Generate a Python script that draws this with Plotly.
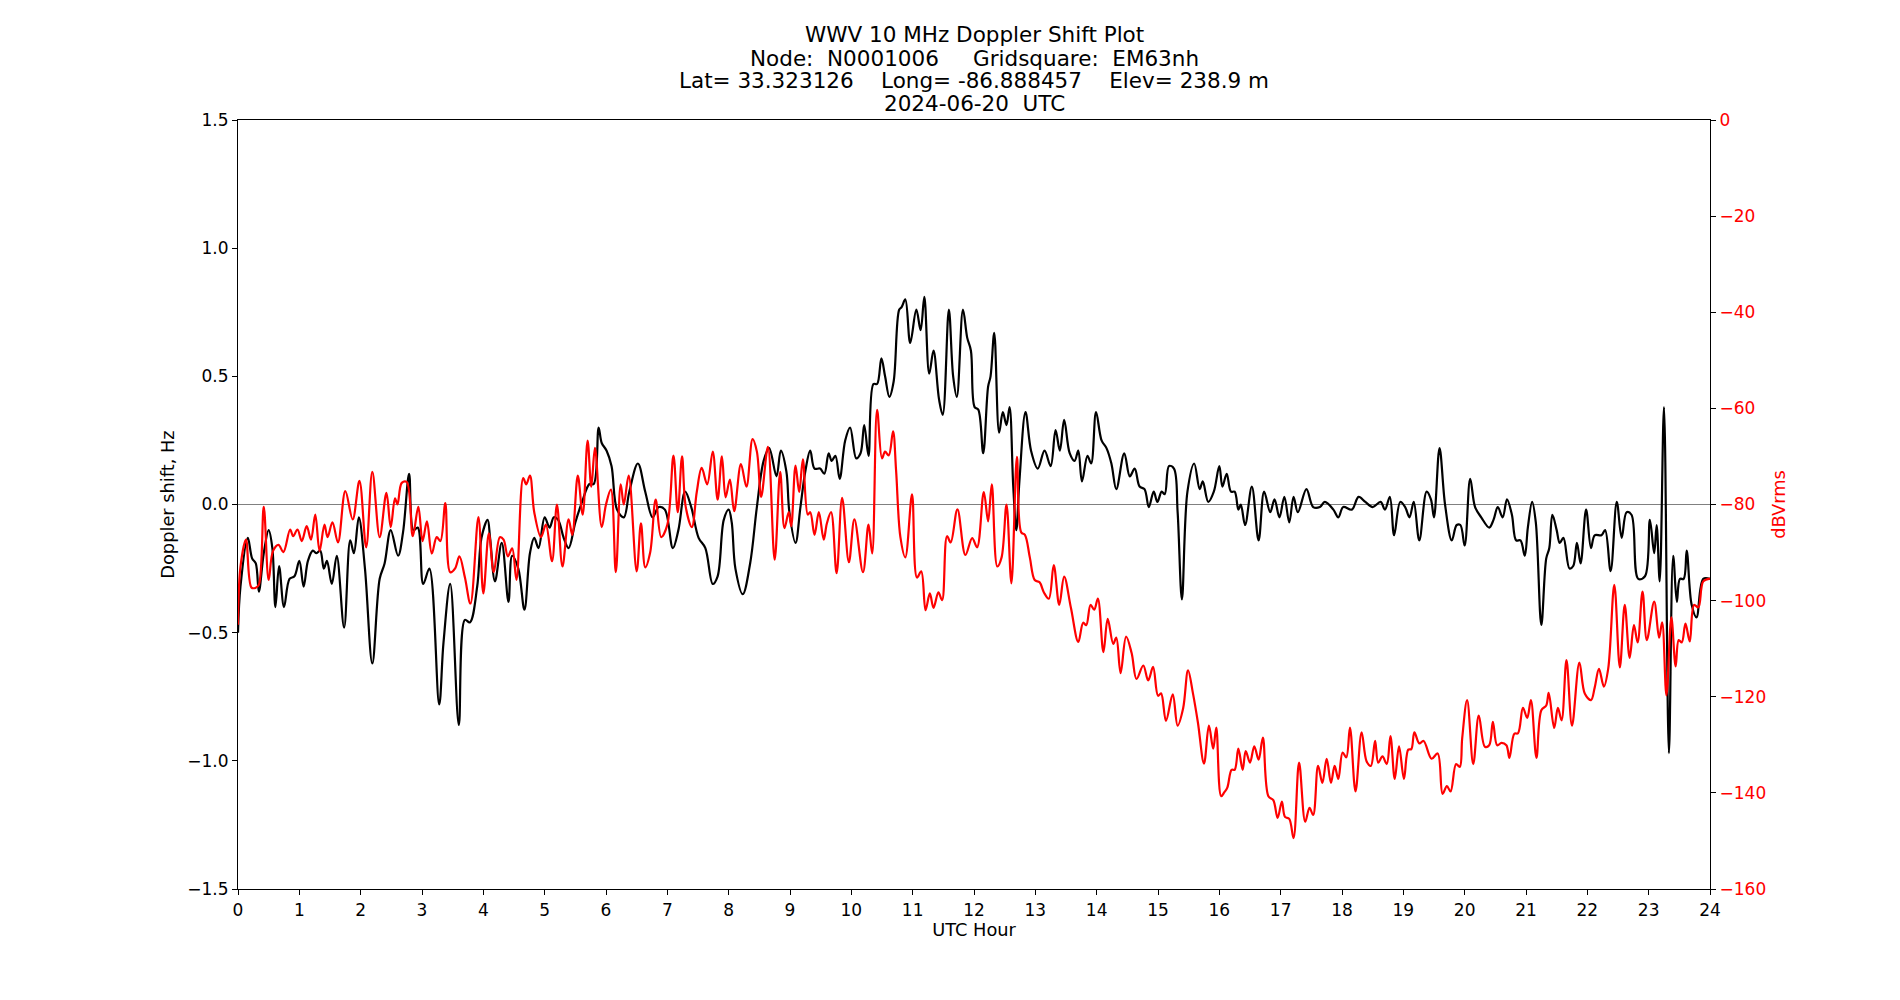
import plotly.graph_objects as go

# ---------------- data ----------------
doppler_hours = [
    0.00, 0.04, 0.16, 0.23, 0.29, 0.34, 0.42, 0.50, 0.56, 0.61, 0.67, 0.75, 0.84, 0.92,
    1.00, 1.07, 1.14, 1.22, 1.28, 1.34, 1.40, 1.45, 1.53, 1.61, 1.73, 1.83, 1.89, 1.97,
    2.07, 2.19, 2.31, 2.39, 2.49, 2.61, 2.69, 2.79, 2.86, 2.93, 3.02, 3.12, 3.28, 3.35,
    3.46, 3.60, 3.70, 3.78, 3.90, 3.97, 4.07, 4.11, 4.19, 4.30, 4.41, 4.47, 4.57, 4.67,
    4.76, 4.83, 4.90, 5.00, 5.08, 5.15, 5.22, 5.31, 5.39, 5.50, 5.61, 5.73, 5.80, 5.88,
    5.93, 6.01, 6.09, 6.18, 6.29, 6.38, 6.52, 6.64, 6.76, 6.86, 6.96, 7.09, 7.18, 7.29,
    7.39, 7.51, 7.62, 7.74, 7.82, 7.92, 8.00, 8.05, 8.11, 8.23, 8.35, 8.46, 8.57, 8.66,
    8.78, 8.85, 8.94, 8.99, 9.09, 9.17, 9.25, 9.33, 9.40, 9.49, 9.56, 9.63, 9.68, 9.74,
    9.81, 9.90, 9.98, 10.08, 10.15, 10.21, 10.28, 10.36, 10.42, 10.49, 10.55, 10.62,
    10.69, 10.78, 10.82, 10.88, 10.96, 11.06, 11.13, 11.19, 11.27, 11.34, 11.43, 11.49,
    11.59, 11.66, 11.72, 11.82, 11.89, 11.95, 12.01, 12.07, 12.15, 12.23, 12.27, 12.33,
    12.41, 12.47, 12.53, 12.58, 12.64, 12.69, 12.74, 12.84, 12.93, 13.04, 13.15, 13.25,
    13.33, 13.40, 13.47, 13.56, 13.64, 13.70, 13.76, 13.85, 13.91, 13.99, 14.08, 14.16,
    14.24, 14.32, 14.45, 14.54, 14.62, 14.70, 14.78, 14.85, 14.93, 14.99, 15.06, 15.11,
    15.18, 15.26, 15.32, 15.39, 15.48, 15.59, 15.68, 15.73, 15.82, 15.91, 16.00, 16.05,
    16.12, 16.19, 16.25, 16.31, 16.35, 16.42, 16.53, 16.64, 16.73, 16.83, 16.90, 16.98,
    17.06, 17.14, 17.21, 17.28, 17.42, 17.53, 17.64, 17.72, 17.86, 17.94, 18.02, 18.16,
    18.27, 18.38, 18.50, 18.63, 18.70, 18.78, 18.85, 18.95, 19.03, 19.10, 19.17, 19.26,
    19.38, 19.45, 19.50, 19.59, 19.68, 19.79, 19.87, 19.93, 20.00, 20.09, 20.17, 20.27,
    20.40, 20.47, 20.54, 20.62, 20.69, 20.77, 20.84, 20.91, 20.98, 21.03, 21.10, 21.16,
    21.25, 21.33, 21.38, 21.43, 21.50, 21.55, 21.61, 21.71, 21.77, 21.83, 21.89, 21.98,
    22.06, 22.12, 22.23, 22.29, 22.38, 22.48, 22.56, 22.64, 22.72, 22.83, 22.94, 23.02,
    23.09, 23.13, 23.18, 23.25, 23.33, 23.40, 23.46, 23.51, 23.57, 23.62, 23.70, 23.78,
    23.89, 24.00,
]
doppler_hz = [
    -0.50, -0.32, -0.13, -0.21, -0.23, -0.34, -0.19, -0.10, -0.17, -0.40, -0.24, -0.40, -0.29, -0.28,
    -0.22, -0.32, -0.22, -0.18, -0.19, -0.18, -0.25, -0.22, -0.31, -0.20, -0.48, -0.14, -0.19, -0.05,
    -0.25, -0.62, -0.29, -0.23, -0.10, -0.20, -0.11, 0.12, -0.10, -0.09, -0.31, -0.25, -0.78, -0.54,
    -0.31, -0.86, -0.45, -0.46, -0.32, -0.13, -0.06, -0.13, -0.30, -0.15, -0.38, -0.20, -0.25, -0.41,
    -0.19, -0.13, -0.17, -0.05, -0.09, -0.05, -0.06, -0.13, -0.17, -0.07, 0.01, 0.08, 0.08, 0.30,
    0.24, 0.21, 0.15, -0.02, -0.05, 0.05, 0.16, 0.05, -0.05, -0.01, -0.02, -0.17, -0.10, 0.05,
    -0.01, -0.13, -0.17, -0.31, -0.28, -0.06, -0.02, -0.07, -0.25, -0.35, -0.23, -0.01, 0.17, 0.22,
    0.11, 0.21, 0.13, -0.03, -0.15, -0.01, 0.13, 0.21, 0.14, 0.14, 0.12, 0.20, 0.17, 0.19,
    0.10, 0.25, 0.30, 0.18, 0.20, 0.31, 0.19, 0.47, 0.47, 0.57, 0.50, 0.42,
    0.48, 0.76, 0.77, 0.80, 0.63, 0.76, 0.68, 0.81, 0.51, 0.60, 0.41, 0.35,
    0.76, 0.50, 0.42, 0.76, 0.65, 0.60, 0.38, 0.37, 0.20, 0.46, 0.50, 0.67,
    0.28, 0.36, 0.31, 0.38, 0.07, -0.10, 0.09, 0.36, 0.21, 0.14, 0.21, 0.15,
    0.29, 0.21, 0.33, 0.20, 0.17, 0.21, 0.09, 0.19, 0.16, 0.36, 0.25, 0.22,
    0.16, 0.06, 0.20, 0.11, 0.14, 0.07, 0.06, -0.01, 0.05, 0.01, 0.05, 0.04,
    0.15, 0.14, -0.03, -0.37, 0.05, 0.16, 0.06, 0.09, 0.01, 0.05, 0.15, 0.07,
    0.12, 0.05, 0.05, -0.02, 0.00, -0.08, 0.07, -0.14, 0.05, -0.03, 0.02, -0.05,
    0.03, -0.07, 0.03, -0.03, 0.06, -0.01, -0.01, 0.01, -0.02, -0.05, -0.01, -0.02,
    0.03, 0.01, -0.01, 0.01, -0.02, 0.03, -0.12, 0.01, -0.01, -0.05, 0.01, -0.14,
    0.05, 0.02, -0.05, 0.22, 0.00, -0.14, -0.08, -0.08, -0.16, 0.10, -0.01, -0.05,
    -0.09, -0.06, -0.01, -0.05, 0.02, -0.04, -0.14, -0.14, -0.20, -0.09, 0.01, -0.07,
    -0.47, -0.21, -0.17, -0.04, -0.10, -0.15, -0.13, -0.25, -0.24, -0.15, -0.23, -0.02,
    -0.17, -0.12, -0.12, -0.10, -0.26, 0.01, -0.13, -0.03, -0.04, -0.29, -0.28, -0.06,
    -0.19, -0.08, -0.30, 0.38, -0.97, -0.20, -0.38, -0.29, -0.29, -0.18, -0.39, -0.44,
    -0.29, -0.29,
]

power_hours = [
    0.00, 0.04, 0.13, 0.22, 0.29, 0.34, 0.42, 0.50, 0.57, 0.66, 0.74, 0.85, 0.90, 0.97,
    1.04, 1.12, 1.19, 1.26, 1.33, 1.41, 1.46, 1.54, 1.63, 1.75, 1.87, 1.98, 2.09, 2.19,
    2.31, 2.42, 2.49, 2.56, 2.60, 2.67, 2.75, 2.85, 2.94, 3.01, 3.08, 3.16, 3.24, 3.30,
    3.38, 3.46, 3.54, 3.61, 3.70, 3.79, 3.92, 4.00, 4.09, 4.17, 4.27, 4.33, 4.40, 4.47,
    4.54, 4.65, 4.70, 4.76, 4.83, 4.94, 5.02, 5.12, 5.20, 5.29, 5.39, 5.45, 5.54, 5.62,
    5.70, 5.76, 5.82, 5.93, 6.00, 6.08, 6.16, 6.24, 6.29, 6.37, 6.50, 6.57, 6.64, 6.72,
    6.81, 6.90, 7.00, 7.10, 7.17, 7.24, 7.30, 7.40, 7.48, 7.56, 7.65, 7.74, 7.82, 7.89,
    7.95, 8.02, 8.09, 8.20, 8.29, 8.39, 8.46, 8.53, 8.64, 8.75, 8.84, 8.91, 8.98, 9.02,
    9.09, 9.15, 9.21, 9.29, 9.33, 9.40, 9.47, 9.55, 9.60, 9.67, 9.76, 9.85, 9.96, 10.05,
    10.19, 10.28, 10.34, 10.42, 10.50, 10.55, 10.61, 10.68, 10.73, 10.80, 10.88, 10.99,
    11.07, 11.14, 11.21, 11.28, 11.34, 11.42, 11.48, 11.56, 11.62, 11.73, 11.86, 11.97,
    12.05, 12.16, 12.23, 12.29, 12.38, 12.45, 12.53, 12.61, 12.70, 12.77, 12.83, 12.91,
    12.99, 13.07, 13.14, 13.22, 13.30, 13.39, 13.47, 13.58, 13.70, 13.78, 13.83, 13.90,
    13.96, 14.02, 14.11, 14.18, 14.27, 14.32, 14.39, 14.48, 14.57, 14.65, 14.76, 14.84,
    14.92, 15.00, 15.05, 15.13, 15.24, 15.32, 15.41, 15.49, 15.57, 15.65, 15.75, 15.83,
    15.90, 15.95, 16.03, 16.08, 16.13, 16.20, 16.25, 16.31, 16.38, 16.43, 16.50, 16.57,
    16.64, 16.71, 16.80, 16.88, 16.95, 17.02, 17.07, 17.14, 17.21, 17.30, 17.40, 17.47,
    17.53, 17.61, 17.68, 17.75, 17.82, 17.88, 17.94, 18.01, 18.07, 18.13, 18.22, 18.32,
    18.40, 18.47, 18.54, 18.59, 18.66, 18.73, 18.79, 18.86, 18.93, 19.01, 19.08, 19.13,
    19.18, 19.26, 19.33, 19.46, 19.56, 19.64, 19.71, 19.77, 19.86, 19.92, 19.96, 20.04,
    20.14, 20.23, 20.33, 20.40, 20.46, 20.53, 20.60, 20.68, 20.73, 20.81, 20.87, 20.95,
    21.02, 21.08, 21.17, 21.25, 21.33, 21.37, 21.46, 21.52, 21.58, 21.66, 21.75, 21.87,
    21.96, 22.06, 22.12, 22.19, 22.27, 22.34, 22.44, 22.53, 22.61, 22.69, 22.76, 22.82,
    22.90, 22.97, 23.09, 23.17, 23.22, 23.29, 23.37, 23.44, 23.49, 23.54, 23.60, 23.67,
    23.74, 23.81, 23.89, 24.00,
]
power_dbv = [
    -105.0, -93.0, -87.3, -97.3, -97.3, -96.7, -80.5, -95.7, -89.7, -88.4, -89.9, -85.2, -86.6, -85.2,
    -87.6, -84.5, -87.3, -82.1, -89.7, -84.2, -86.8, -83.7, -87.9, -77.2, -83.1, -75.1, -88.9, -73.2,
    -86.8, -77.6, -84.7, -78.7, -80.0, -75.5, -75.3, -86.6, -80.5, -87.6, -83.5, -90.2, -86.8, -87.6,
    -79.7, -94.1, -93.3, -90.8, -95.2, -100.6, -82.6, -98.5, -86.0, -94.1, -86.8, -87.3, -90.8, -89.1,
    -95.7, -74.5, -75.8, -74.0, -81.6, -86.8, -84.2, -91.8, -80.0, -92.9, -83.1, -86.3, -74.0, -82.1,
    -66.7, -76.3, -68.2, -84.7, -80.0, -76.9, -94.1, -75.8, -80.0, -74.0, -93.9, -83.9, -93.1, -90.0,
    -79.0, -86.8, -84.2, -69.8, -81.6, -70.0, -80.5, -84.7, -77.4, -72.4, -75.8, -69.0, -79.0, -70.0,
    -78.5, -74.8, -81.4, -71.6, -76.3, -66.4, -69.0, -78.4, -68.0, -91.5, -73.2, -84.9, -81.6, -84.5,
    -71.9, -77.4, -70.6, -82.1, -81.6, -86.3, -81.6, -87.3, -84.0, -81.6, -94.3, -78.6, -92.0, -83.1,
    -94.1, -84.2, -90.2, -60.3, -70.4, -69.0, -69.8, -64.8, -73.0, -86.8, -91.0, -77.9,
    -95.2, -93.9, -102.0, -98.5, -101.5, -98.3, -99.9, -86.6, -87.9, -81.0, -90.5, -87.0,
    -88.9, -77.4, -83.5, -75.8, -92.9, -91.0, -80.0, -96.4, -70.1, -85.8, -86.3, -91.0,
    -95.7, -96.2, -98.3, -99.6, -92.6, -100.9, -95.0, -101.5, -108.6, -104.6, -105.1, -100.9,
    -101.9, -99.6, -110.7, -103.8, -109.0, -107.7, -115.1, -107.5, -110.9, -116.3, -113.5, -116.6,
    -113.8, -119.8, -119.3, -125.0, -119.5, -126.0, -122.4, -114.5, -119.3, -125.3, -133.9, -126.0,
    -130.8, -126.4, -140.7, -139.9, -138.9, -135.2, -135.2, -130.8, -135.2, -131.3, -133.7, -130.3,
    -133.1, -128.5, -140.7, -141.5, -145.2, -141.8, -145.0, -145.4, -149.4, -133.7, -146.0, -143.1,
    -144.6, -134.4, -137.9, -132.9, -137.9, -134.4, -137.1, -131.6, -132.6, -126.4, -139.7, -127.4,
    -133.4, -134.4, -129.2, -133.7, -132.4, -134.0, -128.2, -137.1, -130.3, -137.1, -131.0, -130.9,
    -127.4, -129.7, -129.2, -132.9, -131.8, -140.2, -138.6, -139.7, -134.0, -134.6, -128.6, -120.7,
    -134.0, -123.9, -130.4, -130.1, -125.2, -130.1, -129.6, -130.1, -132.7, -127.7, -127.6, -122.3,
    -124.4, -120.7, -132.7, -122.8, -121.8, -119.2, -126.5, -122.3, -124.9, -112.4, -126.0, -112.9,
    -119.4, -120.7, -118.1, -114.2, -117.9, -114.2, -96.7, -113.9, -100.9, -111.9, -105.1, -108.7,
    -98.1, -108.2, -100.2, -107.7, -104.5, -119.7, -103.5, -113.7, -108.2, -108.7, -104.8, -108.5,
    -100.9, -101.4, -96.0, -95.4,
]

x_ticks = list(range(0, 25))
left_ticks = [-1.5, -1.0, -0.5, 0.0, 0.5, 1.0, 1.5]
right_ticks = [-160, -140, -120, -100, -80, -60, -40, -20, 0]

title_lines = [
    "WWV 10 MHz Doppler Shift Plot",
    "Node:  N0001006     Gridsquare:  EM63nh",
    "Lat= 33.323126    Long= -86.888457    Elev= 238.9 m",
    "2024-06-20  UTC",
]

# ---------------- figure ----------------
FONT = "DejaVu Sans"
W, H = 1900, 1000
PL, PR, PT, PB = 238, 1710, 120, 889

fig = go.Figure()

fig.add_trace(go.Scatter(
    x=doppler_hours, y=doppler_hz, mode="lines",
    line=dict(color="black", width=2.2, shape="spline", smoothing=1.0),
    yaxis="y", showlegend=False, hoverinfo="skip",
))
fig.add_trace(go.Scatter(
    x=power_hours, y=power_dbv, mode="lines",
    line=dict(color="red", width=2.2, shape="spline", smoothing=1.0),
    yaxis="y2", showlegend=False, hoverinfo="skip",
))

fig.add_shape(type="line", xref="paper", x0=0, x1=1, yref="y", y0=0, y1=0,
              line=dict(color="#808080", width=1.2), layer="below")

# title lines as separate annotations (matplotlib-like line spacing)
title_centers_px = [35, 58, 80.5, 104]
for txt, yc in zip(title_lines, title_centers_px):
    fig.add_annotation(
        text=txt.replace(" ", "\u00a0"), xref="paper", yref="paper",
        x=0.5, y=(PB - yc) / (PB - PT) - 1 + 1, showarrow=False,
        xanchor="center", yanchor="middle",
        font=dict(family=FONT, size=21.5, color="black"),
    )

fig.update_layout(
    width=W, height=H,
    paper_bgcolor="white", plot_bgcolor="white",
    margin=dict(l=PL, r=W - PR, t=PT, b=H - PB, pad=0),
    font=dict(family=FONT, size=17, color="black"),
    xaxis=dict(
        range=[0, 24], tickvals=x_ticks, ticktext=[str(v) for v in x_ticks],
        showgrid=False, zeroline=False, showline=True, mirror=True,
        linecolor="black", linewidth=1.2, ticks="outside", ticklen=5,
        tickcolor="black", tickwidth=1.1,
        title=dict(text="UTC Hour", standoff=5, font=dict(size=17.8)),
    ),
    yaxis=dict(
        range=[-1.5, 1.5], tickvals=left_ticks,
        ticktext=[("\u2212" if v < 0 else "") + f"{abs(v):.1f}" for v in left_ticks],
        showgrid=False, zeroline=False, showline=True, mirror=False,
        linecolor="black", linewidth=1.2, ticks="outside", ticklen=5,
        tickcolor="black", tickwidth=1.1,
        title=dict(text="Doppler shift, Hz", standoff=7, font=dict(size=17.8)),
    ),
    yaxis2=dict(
        range=[-160, 0], tickvals=right_ticks,
        ticktext=[("\u2212" if v < 0 else "") + str(abs(v)) for v in right_ticks],
        overlaying="y", side="right",
        showgrid=False, zeroline=False, showline=True,
        linecolor="black", linewidth=1.2, ticks="outside", ticklen=5,
        tickcolor="black", tickwidth=1.1, tickfont=dict(color="red"),
        title=dict(text="dBVrms", standoff=7, font=dict(size=17.8, color="red")),
    ),
)

fig.write_html("out.html")
